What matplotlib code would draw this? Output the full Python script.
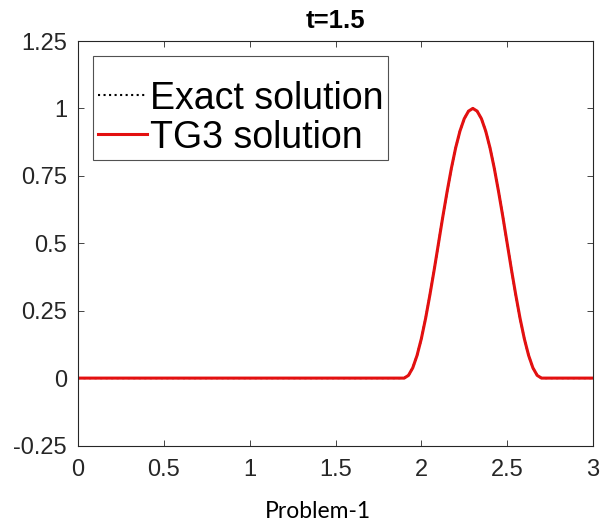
import matplotlib
matplotlib.use("Agg")
import matplotlib.pyplot as plt

# data
x_vals = [0.0, 1.9, 1.925, 1.95, 1.975, 2.0, 2.025, 2.05, 2.075, 2.1, 2.125, 2.15, 2.175,
          2.2, 2.225, 2.25, 2.275, 2.3, 2.325, 2.35, 2.375, 2.4, 2.425, 2.45, 2.475,
          2.5, 2.525, 2.55, 2.575, 2.6, 2.625, 2.65, 2.675, 2.7, 3.0]
exact_vals = [0.0, 0.0, 0.010, 0.038, 0.084, 0.146, 0.222, 0.309, 0.402, 0.5, 0.598, 0.691, 0.778,
              0.854, 0.916, 0.962, 0.990, 1.0, 0.990, 0.962, 0.916, 0.854, 0.778, 0.691, 0.598,
              0.5, 0.402, 0.309, 0.222, 0.146, 0.084, 0.038, 0.010, 0.0, 0.0]
tg3_vals = list(exact_vals)

x_ticks = [0, 0.5, 1, 1.5, 2, 2.5, 3]
x_tick_labels = ["0", "0.5", "1", "1.5", "2", "2.5", "3"]
y_ticks = [-0.25, 0, 0.25, 0.5, 0.75, 1, 1.25]
y_tick_labels = ["-0.25", "0", "0.25", "0.5", "0.75", "1", "1.25"]

plt.rcParams['font.family'] = ['Liberation Sans', 'DejaVu Sans']

fig = plt.figure(figsize=(6.03, 5.27), dpi=100)
ax = fig.add_axes([0.1294, 0.1546, 0.854, 0.7676])

ax.plot(x_vals, exact_vals, color='black', linestyle=':', linewidth=1.5, label='Exact solution')
ax.plot(x_vals, tg3_vals, color='#e31010', linestyle='-', linewidth=2.2, label='TG3 solution')

ax.set_xlim(0, 3)
ax.set_ylim(-0.25, 1.25)
ax.set_xticks(x_ticks)
ax.set_xticklabels(x_tick_labels)
ax.set_yticks(y_ticks)
ax.set_yticklabels(y_tick_labels)
ax.tick_params(direction='in', top=True, right=True, labelsize=17,
               colors='#262626', length=4, width=0.6)
ax.tick_params(axis='x', pad=9.5)
ax.tick_params(axis='y', pad=8)
for s in ax.spines.values():
    s.set_linewidth(0.8)
    s.set_color('#262626')

ax.set_title('t=1.5', fontsize=18.5, fontweight='bold', pad=9.4)

leg = ax.legend(loc='upper left', fontsize=27, frameon=True, fancybox=False,
                edgecolor='#262626', handlelength=1.33, handletextpad=0.08,
                borderpad=0.12, labelspacing=0.08, borderaxespad=0.4,
                title=' ', title_fontsize=14)
leg.get_frame().set_linewidth(0.8)

fig.text(0.527, 0.017, 'Problem-1', ha='center', va='baseline', fontsize=16.5,
         family=['Lato', 'DejaVu Sans'])

fig.savefig('out.png', dpi=100)
